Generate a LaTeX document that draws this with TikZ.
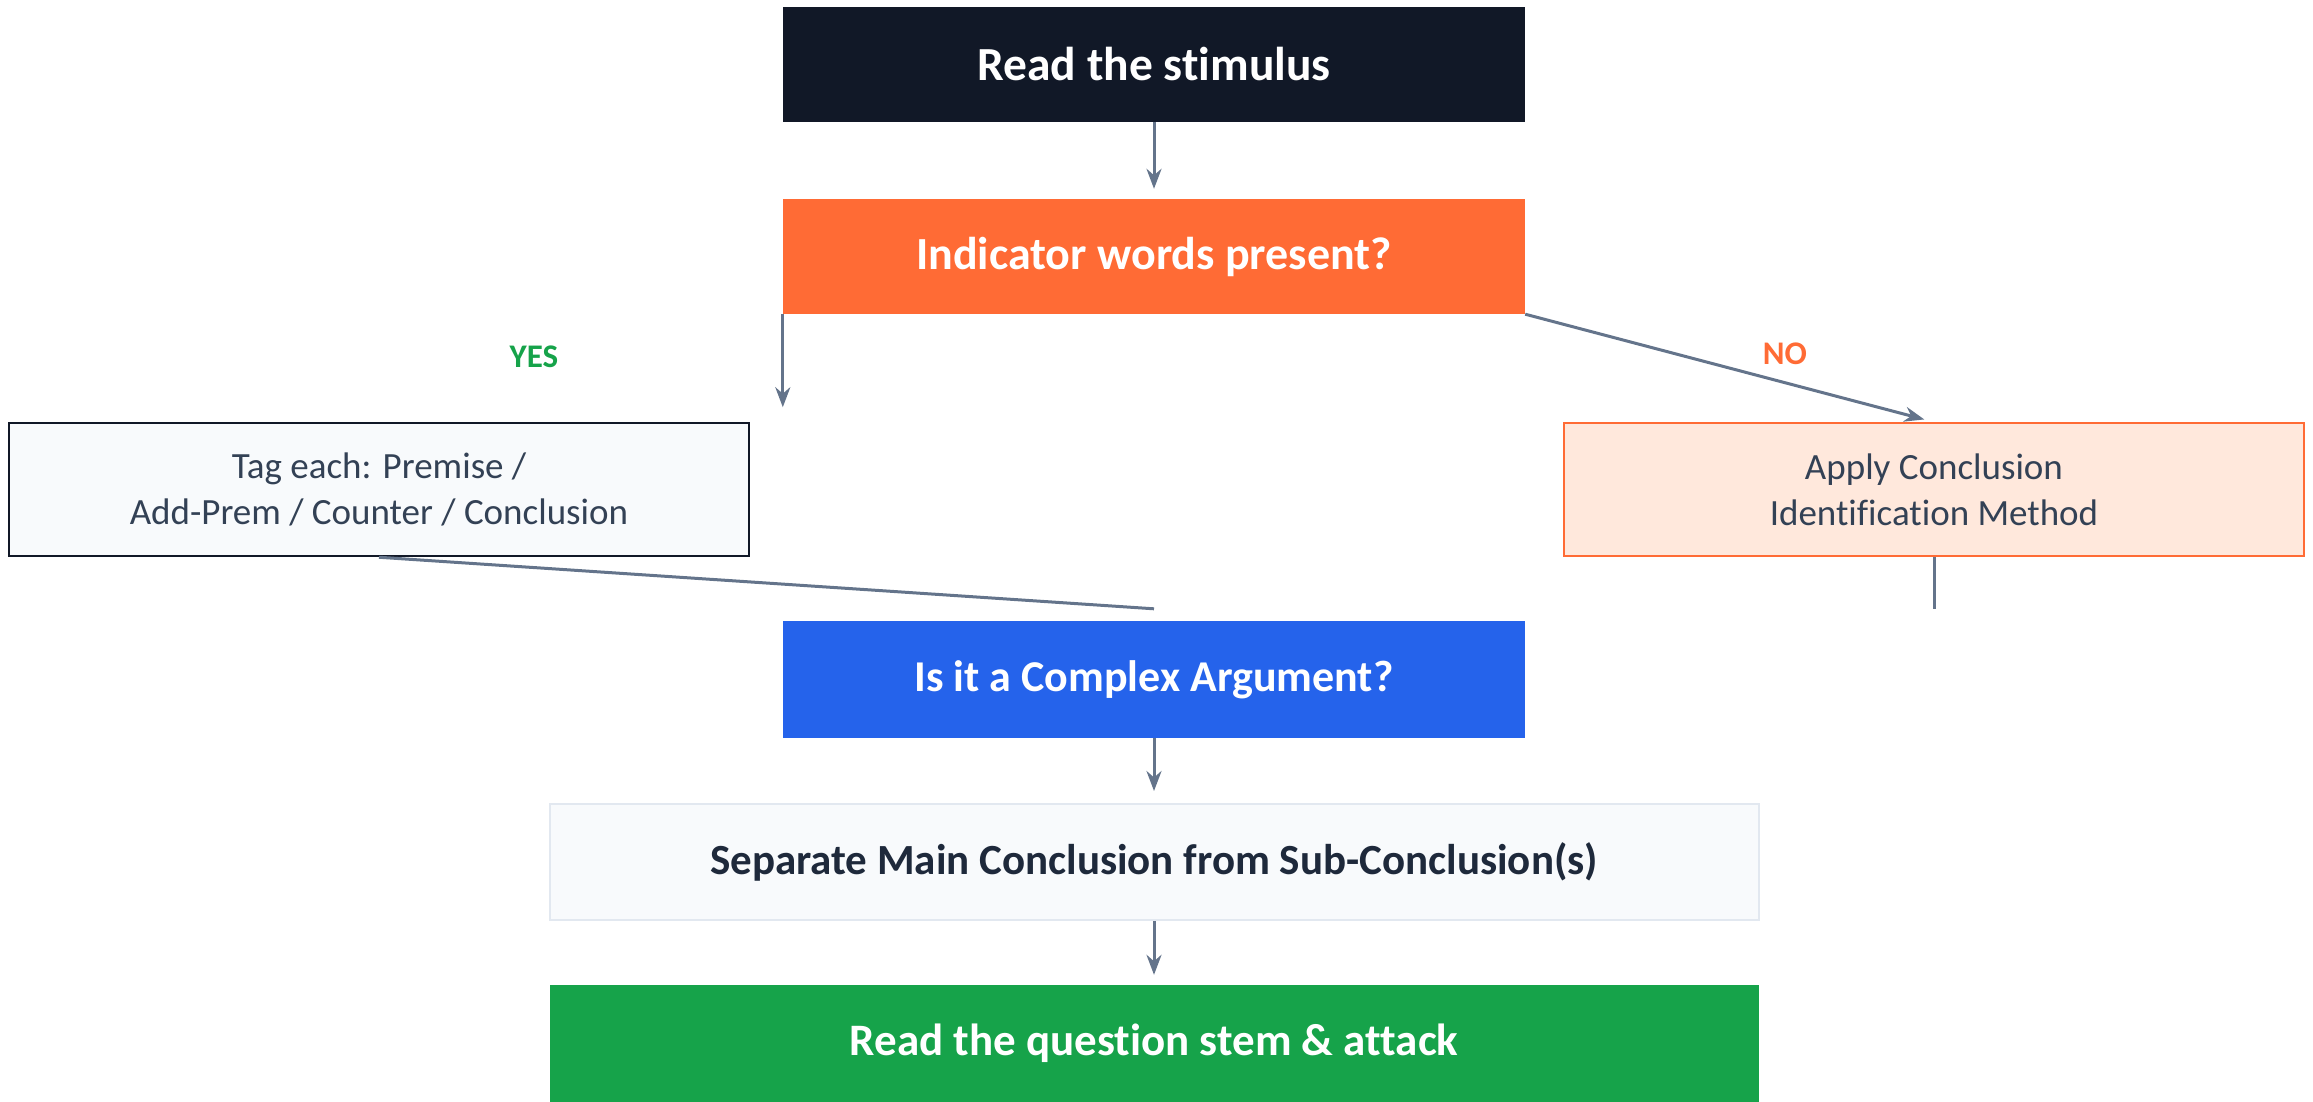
\documentclass[tikz,border=0pt]{standalone}
\usepackage{fontspec}
\setmainfont{Carlito}[Ligatures={NoCommon,NoRare,NoDiscretionary}]
\usepackage{tikz}
\usetikzlibrary{arrows.meta,positioning}

\definecolor{inkdark}{HTML}{111827}
\definecolor{flagorange}{HTML}{FF6B35}
\definecolor{peach}{HTML}{FFE8DC}
\definecolor{royalblue}{HTML}{2563EB}
\definecolor{leafgreen}{HTML}{16A34A}
\definecolor{paper}{HTML}{F8FAFC}
\definecolor{rimgray}{HTML}{E2E8F0}
\definecolor{slatetext}{HTML}{334155}
\definecolor{navytext}{HTML}{1E293B}
\definecolor{linkgray}{HTML}{64748B}

\begin{document}
\begin{tikzpicture}[
      x=1pt, y=1pt, ->, >={Stealth[length=20pt,width=15pt]}, node distance=192pt, on grid,
      box/.style={rectangle, inner sep=0pt, align=center, minimum width=742pt, minimum height=115pt,
                  font=\bfseries\fontsize{46}{55}\selectfont, text=white},
      note/.style={rectangle, inner sep=0pt, align=center, minimum width=740pt, minimum height=133pt,
                   line width=2.5pt, font=\fontsize{37}{46}\selectfont, text=slatetext},
      wide/.style={box, minimum width=1209pt, minimum height=117pt},
      answer/.style={font=\bfseries\fontsize{33}{40}\selectfont},
      link/.style={draw=linkgray, line width=3pt, shorten >=10pt}]

      \useasboundingbox (0,0) rectangle (2313,-1102);

      % Nodes
      \node[box, fill=inkdark, font=\bfseries\fontsize{47.5}{56}\selectfont] (stim) at (1154,-64.5) {Read the stimulus};
      \node[box, fill=flagorange, below=of stim] (ind) {Indicator words present?};
      \node[note, fill=paper, draw=inkdark, below left=233pt and 775pt of ind] (tag)
           {Tag each: Premise /\\Add-Prem / Counter / Conclusion};
      \node[note, fill=peach, draw=flagorange, line width=2pt, below right=233pt and 780pt of ind] (apply)
           {Apply Conclusion\\Identification Method};
      \node[box, fill=royalblue, minimum height=117pt, font=\bfseries\fontsize{44}{53}\selectfont,
            below=423pt of ind] (cplx) {Is it a Complex Argument?};
      \node[wide, fill=paper, draw=rimgray, line width=2pt, text=navytext, minimum height=116pt,
            font=\bfseries\fontsize{43}{52}\selectfont, below=182.5pt of cplx] (sep)
           {Separate Main Conclusion from Sub-Conclusion(s)};
      \node[wide, fill=leafgreen, font=\bfseries\fontsize{45}{54}\selectfont, below=181.5pt of sep] (stem)
           {Read the question stem \& attack};
      \coordinate[below=93pt of ind.south west] (yesend);
      \coordinate[above=12pt of cplx.north] (join);

      % Edges
      \path (stim) edge[link] (ind)
            (ind.south west) edge[link, shorten >=0pt] (yesend)
            (ind.south east) edge[link] (apply.north)
            (tag.south) edge[link, -, shorten >=0pt] (join)
            (apply.south) edge[link, -, shorten >=0pt] (apply.south |- join)
            (cplx) edge[link, shorten >=12pt] (sep)
            (sep) edge[link] (stem);

      %Labels
      \node[answer, text=leafgreen] (yes) at (534,-357) {YES};
      \node[answer, text=flagorange] (no) at (1785,-354) {NO};

    \end{tikzpicture}
\end{document}
